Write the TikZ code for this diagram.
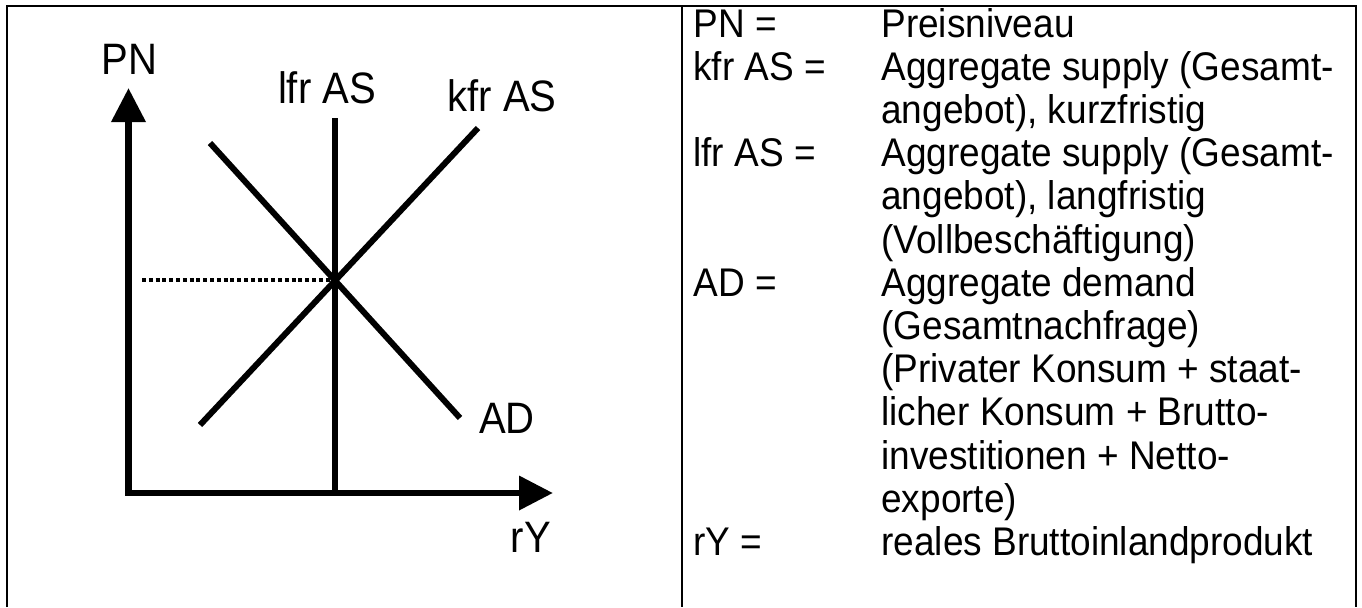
\documentclass[tikz,border=0pt]{standalone}
\usepackage{fontspec}
\setmainfont{Liberation Sans}
\newfontfamily\labfont[FakeStretch=0.91]{Liberation Sans}
\newfontfamily\legfont[FakeStretch=0.925]{Liberation Sans}
\usetikzlibrary{arrows.meta}

\begin{document}
\begin{tikzpicture}[x=0.5pt, y=-0.5pt,
  frame/.style={line width=1pt},
  axis/.style={line width=3.4pt, line cap=rect, -{Triangle[length=17pt, width=16.5pt]}},
  curve/.style={line width=3pt},
  level/.style={line width=1.6pt, dash pattern=on 2pt off 1.4pt},
  lbl/.style={anchor=base, inner sep=0pt, font=\labfont\fontsize{22pt}{26pt}\selectfont},
  term/.style={anchor=base west, inner sep=0pt, font=\legfont\fontsize{20pt}{21.6pt}\selectfont}
]
  \useasboundingbox (0,0) rectangle (1362,607);
  \draw[frame] (6.5,607) -- (6.5,6) -- (1355.5,6) -- (1355.5,607);
  \draw[frame] (682,6) -- (682,607);

  \coordinate (o) at (128.5,493);
  \coordinate (ytop) at (128.5,88);
  \coordinate (xend) at (553,493);
  \coordinate (lfrtop) at (335,118);
  \coordinate (lfrbot) at (335,493);
  \coordinate (kfrlo) at (200,425);
  \coordinate (kfrhi) at (478,128);
  \coordinate (adhi) at (210,143);
  \coordinate (adlo) at (460,418);
  \coordinate (eq) at (335,280);
  \coordinate (pnlevel) at (142,280);

  \draw[axis] (o) -- (ytop);
  \draw[axis] (o) -- (xend);
  \draw[curve] (lfrbot) -- (lfrtop);
  \draw[curve] (kfrlo) -- (kfrhi);
  \draw[curve] (adhi) -- (adlo);
  \draw[level] (pnlevel) -- (eq);

  \node[lbl] (pnlab) at (129.5,74) {PN};
  \node[lbl] (lfrlab) at (327,103) {lfr AS};
  \node[lbl] (kfrlab) at (502,111) {kfr AS};
  \node[lbl] (adlab) at (507,433) {AD};
  \node[lbl] (rylab) at (531,552) {rY};

  \foreach \i/\t in {0/PN =, 1/kfr AS =, 3/lfr AS =, 6/AD =, 12/rY =}
    \node[term] (t\i) at (693,{37+43.2*\i}) {\t};
  \foreach \i/\txt in {0/Preisniveau, 1/Aggregate supply (Gesamt-, 2/{angebot), kurzfristig},
      3/Aggregate supply (Gesamt-, 4/{angebot), langfristig}, 5/(Vollbeschäftigung),
      6/Aggregate demand, 7/(Gesamtnachfrage), 8/(Privater Konsum + staat-,
      9/licher Konsum + Brutto-, 10/investitionen + Netto-, 11/exporte),
      12/reales Bruttoinlandprodukt}
    \node[term] (d\i) at (881,{37+43.2*\i}) {\txt};
\end{tikzpicture}
\end{document}
